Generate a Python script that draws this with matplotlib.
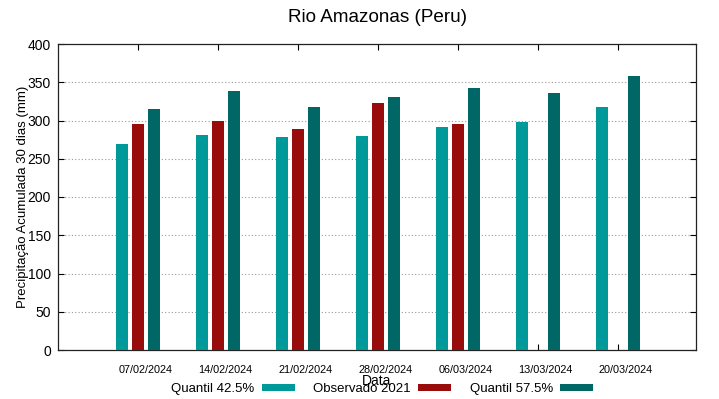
import numpy as np
import matplotlib
matplotlib.use("Agg")
import matplotlib.pyplot as plt

plt.rcParams['font.family'] = ['Liberation Sans', 'DejaVu Sans']

# data
dates = ['07/02/2024', '14/02/2024', '21/02/2024', '28/02/2024',
         '06/03/2024', '13/03/2024', '20/03/2024']
q425 = [269, 281, 279, 280, 292, 298, 317]
obs2021 = [295, 299, 289, 323, 296, np.nan, np.nan]
q575 = [315, 338, 318, 331, 342, 336, 358]

fig = plt.figure(figsize=(7.19, 3.99), dpi=100)
ax = fig.add_axes([58 / 719, 49 / 399, 638 / 719, 306 / 399])

x = np.arange(1, len(dates) + 1)
w = 0.155
ax.bar(x - 0.2, q425, w, color='#009999', label='Quantil 42.5%', zorder=3)
ax.bar(x, obs2021, w, color='#990c0c', label='Observado 2021', zorder=3)
ax.bar(x + 0.2, q575, w, color='#006666', label='Quantil 57.5%', zorder=3)

ax.set_xlim(0, 7.975)
ax.set_ylim(0, 400)
ax.set_yticks(range(0, 401, 50))

# tick marks at group centres, labels drawn a bit to the right (as in the original)
ax.set_xticks(x)
ax.set_xticklabels([])
ax.set_xticks(x + 0.09, minor=True)
ax.set_xticklabels(dates, minor=True, fontsize=7.8)
ax.tick_params(axis='x', which='minor', length=0, pad=11)

ax.tick_params(axis='both', which='major', direction='in', top=True, right=True,
               length=4, width=0.8)
ax.tick_params(axis='y', labelsize=10, pad=5)
ax.yaxis.grid(True, linestyle=(0, (1, 2)), color='#999999', linewidth=0.8, zorder=0)
for s in ax.spines.values():
    s.set_linewidth(0.9)
    s.set_color('#222222')

ax.set_title('Rio Amazonas (Peru)', fontsize=13.6, pad=16)
ax.set_ylabel('Precipitação Acumulada 30 dias (mm)', fontsize=9.5, labelpad=-1)
ax.set_xlabel('Data', fontsize=10, labelpad=-1)

ax.legend(loc='center', bbox_to_anchor=(0.508, -0.127), ncol=3, frameon=False,
          markerfirst=False, fontsize=9.5, handlelength=2.5, handleheight=0.45,
          columnspacing=1.4, handletextpad=0.55)

fig.savefig('out.png', dpi=100)
